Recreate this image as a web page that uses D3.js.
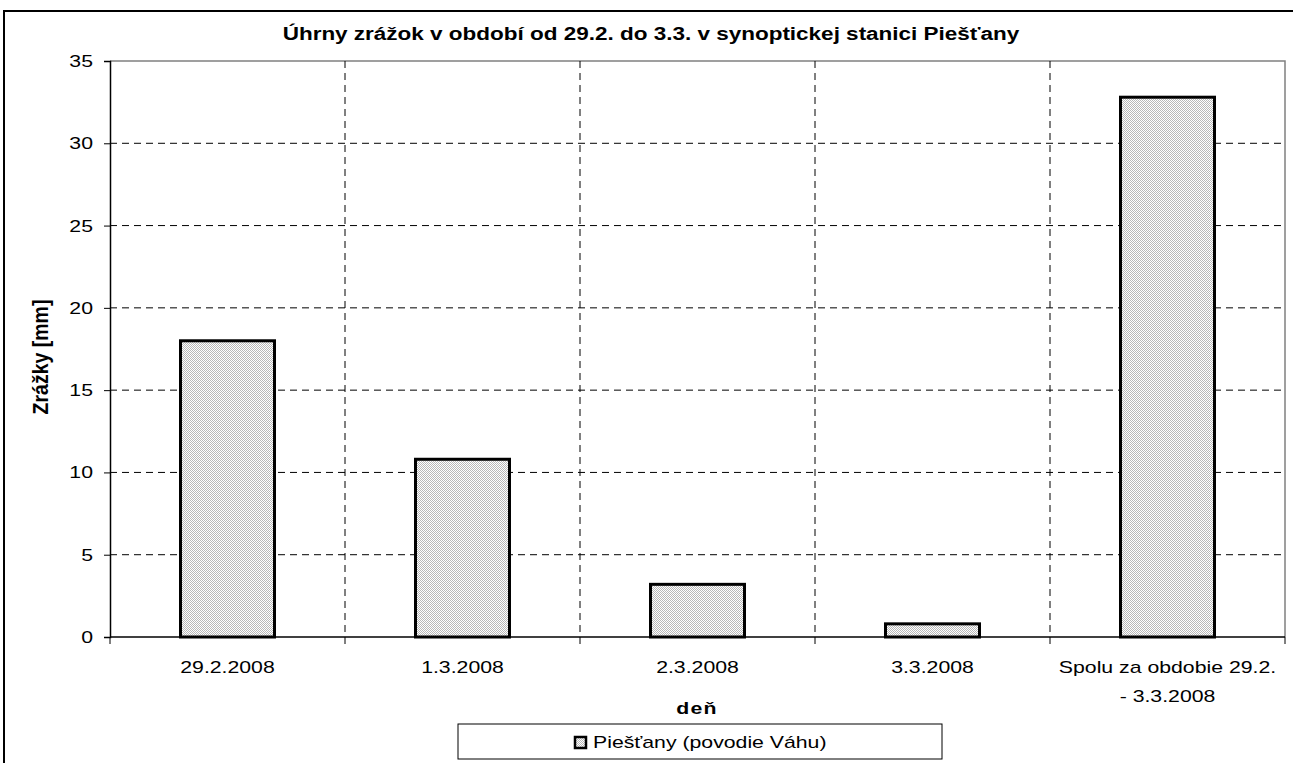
<!DOCTYPE html>
<html>
<head>
<meta charset="utf-8">
<script src="https://cdn.jsdelivr.net/npm/d3@7"></script>
<style>
  body { margin: 0; background: #fff; }
  svg text { font-family: "Liberation Sans", Arial, sans-serif; fill: #000; }
</style>
</head>
<body>
<div id="chart"></div>
<script>
var categories = ["29.2.2008", "1.3.2008", "2.3.2008", "3.3.2008", "Spolu za obdobie 29.2.|- 3.3.2008"];
var values = [18.0, 10.8, 3.2, 0.8, 32.8];
var yTicks = [0, 5, 10, 15, 20, 25, 30, 35];
var seriesName = "Piešťany (povodie Váhu)";
var title = "Úhrny zrážok v období od 29.2. do 3.3. v synoptickej stanici Piešťany";

function init() {
  var w = 1293, h = 763;
  var left = 110, right = 1285, top = 61, bottom = 637;
  var sx = 1.25; // text in the original is stretched horizontally

  var svg = d3.select("#chart").append("svg")
      .attr("width", w).attr("height", h);

  // helper: text stretched horizontally around its anchor
  function label(g, x, y, size, txt, anchor, bold) {
    return g.append("text")
        .attr("transform", "translate(" + x + "," + y + ") scale(" + sx + ",1)")
        .attr("text-anchor", anchor || "middle")
        .attr("font-size", size)
        .attr("font-weight", bold ? "bold" : "normal")
        .text(txt);
  }

  // checker pattern for bar fill
  var pat = svg.append("defs").append("pattern")
      .attr("id", "dots").attr("width", 2).attr("height", 2)
      .attr("patternUnits", "userSpaceOnUse");
  pat.append("rect").attr("width", 2).attr("height", 2).attr("fill", "#ffffff");
  pat.append("rect").attr("x", 0).attr("y", 0).attr("width", 1).attr("height", 1).attr("fill", "#b8b8b8");
  pat.append("rect").attr("x", 1).attr("y", 1).attr("width", 1).attr("height", 1).attr("fill", "#b8b8b8");

  // outer chart border
  svg.append("rect")
      .attr("x", 4).attr("y", 11).attr("width", w + 10).attr("height", h + 10)
      .attr("fill", "none").attr("stroke", "#000").attr("stroke-width", 2);

  var x = d3.scaleBand().domain(categories).range([left, right]);
  var y = d3.scaleLinear().domain([0, 35]).range([bottom, top]);

  // plot area border (top & right)
  svg.append("path")
      .attr("d", "M" + left + "," + top + "H" + right + "V" + bottom)
      .attr("fill", "none").attr("stroke", "#808080").attr("stroke-width", 1.5);

  // horizontal grid
  svg.selectAll("line.hgrid")
    .data(yTicks.filter(function(d) { return d > 0 && d < 35; }))
    .enter().append("line")
      .attr("x1", left).attr("x2", right)
      .attr("y1", function(d) { return y(d); })
      .attr("y2", function(d) { return y(d); })
      .attr("stroke", "#000").attr("stroke-width", 1)
      .attr("stroke-dasharray", "7,5");

  // vertical grid at category boundaries
  svg.selectAll("line.vgrid")
    .data(categories.slice(1))
    .enter().append("line")
      .attr("x1", function(d) { return x(d); })
      .attr("x2", function(d) { return x(d); })
      .attr("y1", top).attr("y2", bottom)
      .attr("stroke", "#000").attr("stroke-width", 1)
      .attr("stroke-dasharray", "7,5");

  // bars
  var bw = 94;
  svg.selectAll("rect.bar")
    .data(values)
    .enter().append("rect")
      .attr("class", "bar")
      .attr("x", function(d, i) { return x(categories[i]) + x.bandwidth() / 2 - bw / 2; })
      .attr("y", function(d) { return y(d); })
      .attr("width", bw)
      .attr("height", function(d) { return y(0) - y(d); })
      .attr("fill", "url(#dots)")
      .attr("stroke", "#000").attr("stroke-width", 3);

  // y axis
  var yAxis = svg.append("g").attr("transform", "translate(" + left + ",0)")
      .call(d3.axisLeft(y).tickValues(yTicks).tickSize(6).tickFormat(""));
  yAxis.select(".domain").attr("stroke", "#000").attr("stroke-width", 1.5);
  yTicks.forEach(function(t) {
    label(svg, 93, y(t) + 6, 17, t, "end");
  });

  // x axis
  var xg = svg.append("g").attr("transform", "translate(0," + bottom + ")");
  xg.append("line").attr("x1", left).attr("x2", right)
      .attr("stroke", "#000").attr("stroke-width", 1.5);
  var bounds = [left].concat(categories.slice(1).map(function(c) { return x(c); })).concat([right]);
  xg.selectAll("line.tick").data(bounds).enter().append("line")
      .attr("x1", function(d) { return d; }).attr("x2", function(d) { return d; })
      .attr("y1", 0).attr("y2", 7).attr("stroke", "#000");
  categories.forEach(function(c) {
    c.split("|").forEach(function(p, i) {
      label(svg, x(c) + x.bandwidth() / 2, bottom + 36 + i * 29, 17, p, "middle");
    });
  });

  // title
  label(svg, 651, 40, 18, title, "middle", true);

  // axis titles
  svg.append("text")
      .attr("transform", "translate(40,357) rotate(-90) scale(1,1.15)")
      .attr("text-anchor", "middle").attr("font-size", 19.5).attr("font-weight", "bold")
      .attr("dy", "0.35em")
      .text("Zrážky [mm]");
  label(svg, 697, 714, 17, "deň", "middle", true).attr("letter-spacing", 1);

  // legend
  var lg = svg.append("g");
  lg.append("rect").attr("x", 458).attr("y", 724).attr("width", 484).attr("height", 35)
      .attr("fill", "#fff").attr("stroke", "#000").attr("stroke-width", 1);
  lg.append("rect").attr("x", 575).attr("y", 737).attr("width", 11).attr("height", 11)
      .attr("fill", "url(#dots)").attr("stroke", "#000").attr("stroke-width", 2.5);
  label(lg, 593, 748, 17, seriesName, "start");
}

window.onload = init;
</script>
</body>
</html>
